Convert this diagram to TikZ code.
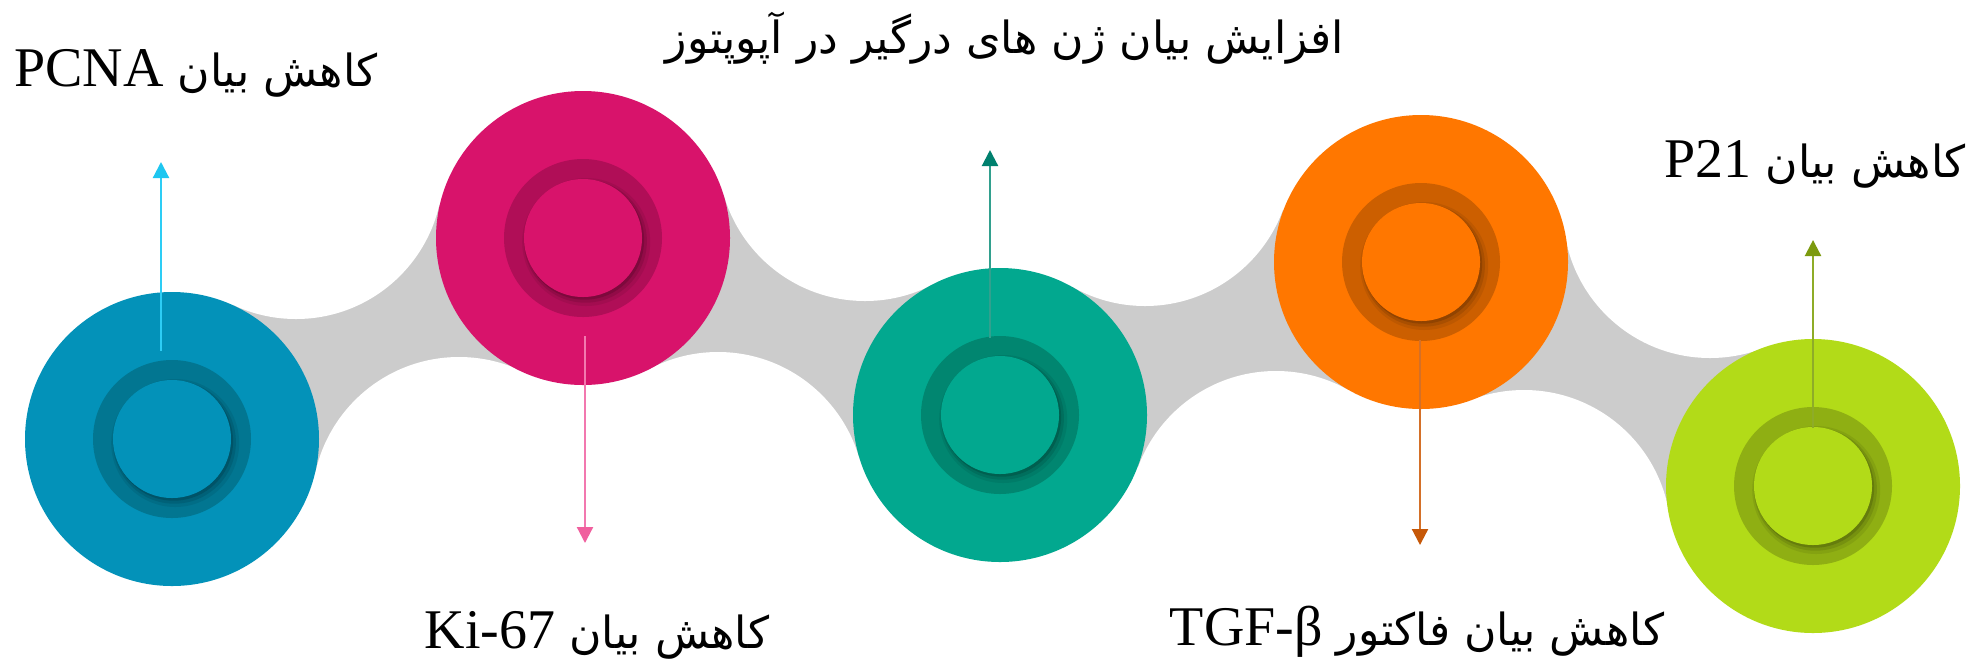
\documentclass[tikz,border=0pt]{standalone}
\usepackage{fontspec}
\usetikzlibrary{arrows.meta}
\setmainfont{Liberation Serif}
\newfontfamily\farsi[Script=Arabic, Scale=0.79]{DejaVu Sans}
\TeXXeTstate=1

% disc colours and their darker rings
\definecolor{cblue}{RGB}{3,146,185}
\definecolor{cbluering}{RGB}{2,118,145}
\definecolor{cpink}{RGB}{216,19,107}
\definecolor{cpinkring}{RGB}{176,14,87}
\definecolor{cteal}{RGB}{2,168,143}
\definecolor{ctealring}{RGB}{1,134,112}
\definecolor{corange}{RGB}{255,119,0}
\definecolor{corangering}{RGB}{204,95,0}
\definecolor{cgreen}{RGB}{178,219,24}
\definecolor{cgreenring}{RGB}{143,175,19}
\definecolor{linkgray}{RGB}{204,204,204}
% pointer colours (shaft / head)
\definecolor{ablue}{RGB}{45,205,245}
\definecolor{abluehead}{RGB}{30,198,240}
\definecolor{apink}{RGB}{242,120,175}
\definecolor{apinkhead}{RGB}{240,96,158}
\definecolor{ateal}{RGB}{50,160,142}
\definecolor{atealhead}{RGB}{0,128,110}
\definecolor{aorange}{RGB}{212,112,40}
\definecolor{aorangehead}{RGB}{198,88,8}
\definecolor{agreen}{RGB}{142,172,40}
\definecolor{agreenhead}{RGB}{124,154,14}

\begin{document}
\begin{tikzpicture}[x=0.5pt,y=-0.5pt,
  disc/.style={circle, inner sep=0pt, minimum size=147pt, draw=none},
  ringdisc/.style={circle, inner sep=0pt, minimum size=79pt, draw=none},
  core/.style={circle, inner sep=0pt, minimum size=59pt, draw=none},
  hole/.style={circle, inner sep=0pt, minimum size=147pt, fill=white, draw=none},
  lbl/.style={font=\fontsize{28}{34}\selectfont, inner sep=0pt, text=black},
  pointer/.style={line width=1.1pt},
]
\useasboundingbox (0,0) rectangle (1985,666);
\fill[white] (0,0) rectangle (1985,666);

% centres of the five discs
\coordinate (p1) at (172,439);
\coordinate (p2) at (583,238);
\coordinate (p3) at (1000,415);
\coordinate (p4) at (1421,262);
\coordinate (p5) at (1813,486);
% centres of the white circles that shape each grey neck
\coordinate (u1) at (296,172);   \coordinate (d1) at (459,504);
\coordinate (u2) at (865,154);   \coordinate (d2) at (718,499);
\coordinate (u3) at (1145,159);  \coordinate (d3) at (1276,518);
\coordinate (u4) at (1710,211);  \coordinate (d4) at (1524,537);

% grey links between neighbouring discs
\fill[linkgray] (p1) -- (u1) -- (p2) -- (d1) -- cycle;
\fill[linkgray] (p2) -- (u2) -- (p3) -- (d2) -- cycle;
\fill[linkgray] (p3) -- (u3) -- (p4) -- (d3) -- cycle;
\fill[linkgray] (p4) -- (u4) -- (p5) -- (d4) -- cycle;

% concave cut-outs
\foreach \k in {1,2,3,4} {
  \node[hole] (hu\k) at (u\k) {};
  \node[hole] (hd\k) at (d\k) {};
}

% discs with recessed ring and soft inner shadow
\foreach \n/\base/\dark in {1/cblue/cbluering, 2/cpink/cpinkring, 3/cteal/ctealring,
                            4/corange/corangering, 5/cgreen/cgreenring} {
  \node[disc, fill=\base] (c\n) at (p\n) {};
  \node[ringdisc, fill=\dark] (r\n) at (p\n) {};
  \node[core, fill=black, opacity=0.07, minimum size=64pt, xshift=1.6pt, yshift=-2pt] (sa\n) at (p\n) {};
  \node[core, fill=black, opacity=0.10, minimum size=61.5pt, xshift=1.2pt, yshift=-1.6pt] (sb\n) at (p\n) {};
  \node[core, fill=black, opacity=0.14, minimum size=59.5pt, xshift=0.8pt, yshift=-1.1pt] (sc\n) at (p\n) {};
  \node[core, fill=\base] (i\n) at (p\n) {};
}

% pointers
\coordinate (a1) at (161,351);  \coordinate (h1) at (161,162);
\coordinate (a2) at (585,336);  \coordinate (h2) at (585,543);
\coordinate (a3) at (990,338);  \coordinate (h3) at (990,150);
\coordinate (a4) at (1420,340); \coordinate (h4) at (1420,545);
\coordinate (a5) at (1813,428); \coordinate (h5) at (1813,240);
\draw[pointer, draw=ablue, -{Triangle[width=8pt,length=8pt,color=abluehead]}] (a1) -- (h1);
\draw[pointer, draw=apink, -{Triangle[width=8pt,length=8pt,color=apinkhead]}] (a2) -- (h2);
\draw[pointer, draw=ateal, -{Triangle[width=8pt,length=8pt,color=atealhead]}] (a3) -- (h3);
\draw[pointer, draw=aorange, -{Triangle[width=8pt,length=8pt,color=aorangehead]}] (a4) -- (h4);
\draw[pointer, draw=agreen, -{Triangle[width=8pt,length=8pt,color=agreenhead]}] (a5) -- (h5);

% labels
\node[lbl, anchor=base] (t1) at (196,86)
  {\farsi\beginR کاهش بیان \beginL{\rmfamily PCNA}\endL\endR};
\node[lbl, anchor=base] (t2) at (1005,53)
  {\farsi\beginR افزایش بیان ژن های درگیر در آپوپتوز\endR};
\node[lbl, anchor=base] (t3) at (597,648)
  {\farsi\beginR کاهش بیان \beginL{\rmfamily Ki-67}\endL\endR};
\node[lbl, anchor=base] (t4) at (1815,177)
  {\farsi\beginR کاهش بیان \beginL{\rmfamily P21}\endL\endR};
\node[lbl, anchor=base] (t5) at (1417,645)
  {\farsi\beginR کاهش بیان فاکتور \beginL{\rmfamily TGF-β}\endL\endR};
\end{tikzpicture}
\end{document}
